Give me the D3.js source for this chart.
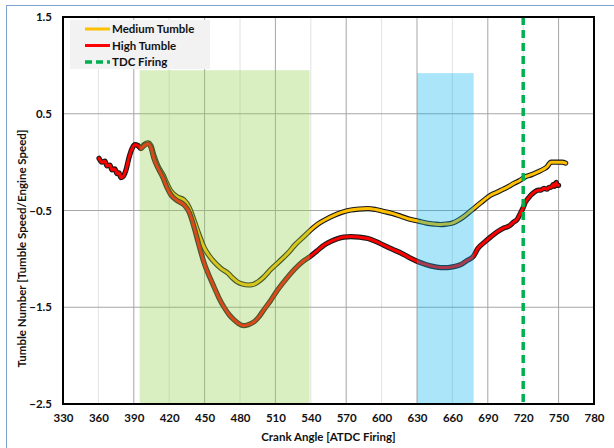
<!DOCTYPE html>
<html>
<head>
<meta charset="utf-8">
<script src="https://cdn.jsdelivr.net/npm/d3@7"></script>
<style>
  html, body { margin: 0; padding: 0; background: #fff; }
  svg { display: block; }
  text { font-family: Lato, "Open Sans", sans-serif; font-weight: 700; fill: #111; }
</style>
</head>
<body>
<svg id="chart" width="614" height="448"></svg>
<script>
// Crank angle (deg ATDC firing) and tumble number samples
const highAngle = [360.5, 363, 365.6, 367.3, 369.8, 371.5, 374, 375.8, 377.5, 379, 380.8, 383.4, 386, 388.5, 391, 393.6, 396, 398.6, 402, 404.6, 407, 410.5, 414.7, 418, 421.5, 427, 432.5, 437, 441, 445, 449.5, 454, 458, 462, 466.5, 471, 475, 479, 483, 487, 492, 496, 500, 506, 512, 519, 526, 533, 540, 545, 551, 557, 563, 568, 574, 581, 588.5, 595, 602, 609, 616.5, 624, 631, 638, 644.5, 650, 656, 661, 667, 672, 678, 681.7, 687, 692.7, 698, 703.8, 708, 712, 715, 718, 720, 722, 724.5, 726.6, 729.5, 732.6, 735, 737.6, 740, 742, 743.6, 745.5, 746.5, 748, 749, 750];
const highValue = [0.04, 0.0, 0.01, -0.04, -0.03, -0.08, -0.07, -0.12, -0.11, -0.16, -0.15, -0.08, 0.05, 0.14, 0.18, 0.17, 0.14, 0.17, 0.19, 0.15, 0.04, -0.06, -0.16, -0.26, -0.34, -0.40, -0.44, -0.52, -0.67, -0.85, -1.04, -1.18, -1.29, -1.40, -1.50, -1.58, -1.63, -1.67, -1.69, -1.68, -1.65, -1.60, -1.53, -1.43, -1.32, -1.21, -1.11, -1.03, -0.97, -0.92, -0.86, -0.82, -0.79, -0.775, -0.77, -0.775, -0.79, -0.82, -0.86, -0.90, -0.94, -0.99, -1.03, -1.06, -1.08, -1.09, -1.09, -1.08, -1.06, -1.02, -0.97, -0.89, -0.83, -0.77, -0.72, -0.68, -0.66, -0.62, -0.59, -0.52, -0.47, -0.41, -0.37, -0.34, -0.31, -0.29, -0.29, -0.27, -0.28, -0.26, -0.26, -0.23, -0.25, -0.21, -0.24, -0.24];

const medAngle = [393.6, 396, 398.6, 402, 404.6, 407, 410.5, 414.7, 418, 421.5, 427, 432.5, 437, 441, 445, 449.5, 454, 458, 464, 470, 474, 478, 482, 487, 491, 495, 500, 506, 513, 520.7, 527, 534, 540, 546, 553, 559.7, 566, 574, 581, 588.5, 595, 602, 609, 616.5, 624, 631, 638, 644.5, 650, 655, 660, 665, 670, 676, 684, 692.7, 698, 703, 708, 712, 717, 722, 727, 732.6, 737.6, 740, 743.6, 747, 750, 753, 756];
const medValue = [0.17, 0.15, 0.18, 0.20, 0.17, 0.07, -0.04, -0.13, -0.22, -0.30, -0.36, -0.39, -0.47, -0.60, -0.74, -0.88, -0.97, -1.03, -1.10, -1.15, -1.20, -1.24, -1.26, -1.27, -1.265, -1.24, -1.19, -1.11, -1.03, -0.94, -0.85, -0.77, -0.70, -0.64, -0.59, -0.55, -0.52, -0.495, -0.485, -0.48, -0.49, -0.51, -0.53, -0.56, -0.59, -0.61, -0.63, -0.64, -0.645, -0.64, -0.63, -0.60, -0.56, -0.50, -0.42, -0.34, -0.31, -0.28, -0.25, -0.22, -0.19, -0.15, -0.13, -0.10, -0.07, -0.05, 0.0, 0.0, 0.0, 0.0, -0.01];

// Shaded crank-angle windows: [start, end, top]
const greenWindow = [395, 539, 0.95];
const blueWindow = [630, 678, 0.92];
const tdcAngle = 720;

const xTicks = d3.range(330, 781, 30);
const yTicks = [1.5, 0.5, -0.5, -1.5, -2.5];
const seriesNames = ["Medium Tumble", "High Tumble", "TDC Firing"];

const svg = d3.select("#chart");

const x = d3.scaleLinear().domain([330, 780]).range([63, 594]);
const y = d3.scaleLinear().domain([-2.5, 1.5]).range([404, 17]);

// Outer chart border
svg.append("rect").attr("x", 6.5).attr("y", 5.5).attr("width", 700).attr("height", 600)
  .attr("fill", "#fff").attr("stroke", "#7fa3d0").attr("stroke-width", 1);

// Vertical gridlines: darker every 60 deg from 390, lighter in between
const gridG = svg.append("g");
xTicks.filter(t => t > 330 && t < 780).forEach(t => {
  const major = ((t - 390) % 60 === 0);
  gridG.append("line")
    .attr("x1", x(t)).attr("x2", x(t)).attr("y1", y(1.5)).attr("y2", y(-2.5))
    .attr("stroke", major ? "#a6a6a6" : "#e2e2e2").attr("stroke-width", 1);
});
yTicks.filter(t => t < 1.5 && t > -2.5).forEach(t => {
  gridG.append("line")
    .attr("x1", x(330)).attr("x2", x(780)).attr("y1", y(t)).attr("y2", y(t))
    .attr("stroke", "#a6a6a6").attr("stroke-width", 1);
});

// Series lines: dark casing under a coloured core
const line = d3.line().x(d => x(d[0])).y(d => y(d[1])).curve(d3.curveMonotoneX);
const medData = d3.zip(medAngle, medValue);
const highData = d3.zip(highAngle, highValue);

function drawSeries(data, color) {
  svg.append("path").datum(data).attr("d", line)
    .attr("fill", "none").attr("stroke", "#1a1a1a").attr("stroke-width", 5.2)
    .attr("stroke-linejoin", "round").attr("stroke-linecap", "round");
  svg.append("path").datum(data).attr("d", line)
    .attr("fill", "none").attr("stroke", color).attr("stroke-width", 3)
    .attr("stroke-linejoin", "round").attr("stroke-linecap", "round");
}
drawSeries(medData, "#ffc000");
drawSeries(highData, "#ff0000");

// Translucent crank-angle windows over the curves
svg.append("rect")
  .attr("x", x(greenWindow[0])).attr("y", y(greenWindow[2]))
  .attr("width", x(greenWindow[1]) - x(greenWindow[0]))
  .attr("height", y(-2.5) - y(greenWindow[2]))
  .attr("fill", "#92d050").attr("fill-opacity", 0.35);
svg.append("rect")
  .attr("x", x(blueWindow[0])).attr("y", y(blueWindow[2]))
  .attr("width", x(blueWindow[1]) - x(blueWindow[0]))
  .attr("height", y(-2.5) - y(blueWindow[2]))
  .attr("fill", "#00b0f0").attr("fill-opacity", 0.33);

// TDC firing marker
svg.append("line")
  .attr("x1", x(tdcAngle)).attr("x2", x(tdcAngle)).attr("y1", y(1.5)).attr("y2", y(-2.5))
  .attr("stroke", "#00b050").attr("stroke-width", 3.5).attr("stroke-dasharray", "8,5");

// Plot frame
svg.append("rect")
  .attr("x", x(330)).attr("y", y(1.5))
  .attr("width", x(780) - x(330)).attr("height", y(-2.5) - y(1.5))
  .attr("fill", "none").attr("stroke", "#000").attr("stroke-width", 2);

// Axes (labels only)
const xAxis = d3.axisBottom(x).tickValues(xTicks).tickSize(0).tickPadding(10);
const xg = svg.append("g").attr("transform", `translate(0,${y(-2.5)})`).call(xAxis);
xg.select(".domain").remove();
xg.selectAll("text").attr("font-size", 11.5).style("font-family", "Lato, sans-serif").style("font-weight", 700).attr("fill", "#111");

const yAxis = d3.axisLeft(y).tickValues(yTicks).tickFormat(d3.format(".1f")).tickSize(0).tickPadding(11);
const yg = svg.append("g").attr("transform", `translate(${x(330)},0)`).call(yAxis);
yg.select(".domain").remove();
yg.selectAll("text").attr("font-size", 11.5).style("font-family", "Lato, sans-serif").style("font-weight", 700).attr("fill", "#111");

// Axis titles
svg.append("text").attr("x", (x(330) + x(780)) / 2).attr("y", 441)
  .attr("text-anchor", "middle").attr("font-size", 11.5).text("Crank Angle [ATDC Firing]");
svg.append("text").attr("transform", `translate(26,${(y(1.5) + y(-2.5)) / 2 + 38}) rotate(-90)`)
  .attr("text-anchor", "middle").attr("font-size", 11.5).text("Tumble Number [Tumble Speed/Engine Speed]");

// Legend
const lg = svg.append("g");
lg.append("rect").attr("x", 70).attr("y", 20).attr("width", 140).attr("height", 49).attr("fill", "#f2f2f2");
const legendColors = ["#ffc000", "#ff0000", "#00b050"];
seriesNames.forEach((name, i) => {
  const ly = 29 + i * 16.5;
  const l = lg.append("line").attr("x1", 85).attr("x2", 110).attr("y1", ly).attr("y2", ly)
    .attr("stroke", legendColors[i]).attr("stroke-width", i === 2 ? 3.5 : 3);
  if (i === 2) l.attr("stroke-dasharray", "7,4");
  lg.append("text").attr("x", 112).attr("y", ly + 4).attr("font-size", 11.5).text(name);
});
</script>
</body>
</html>
